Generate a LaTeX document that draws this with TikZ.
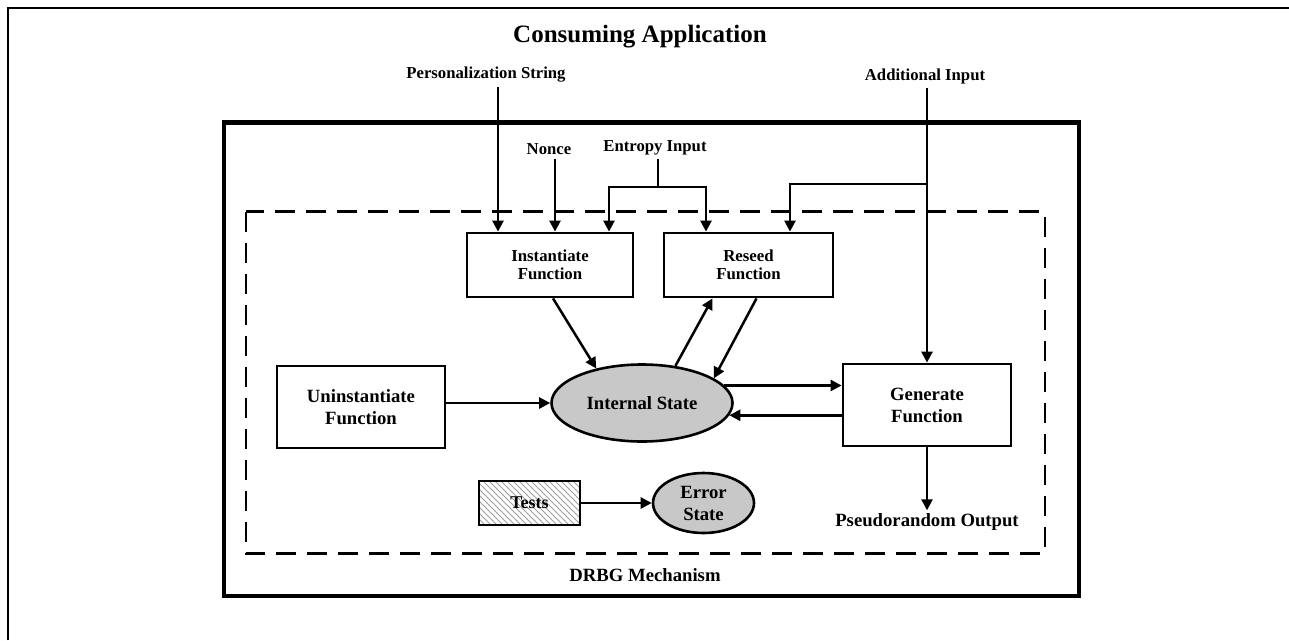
\documentclass[tikz,border=0pt]{standalone}
\usepackage{fontspec}
\setmainfont{Liberation Serif}
\usetikzlibrary{arrows.meta,shapes.geometric}
\definecolor{stategray}{RGB}{200,200,200}
\begin{document}
\begin{tikzpicture}[x=1pt,y=-1pt,
  arr/.style={-{Triangle[length=11pt,width=11pt]}, line width=2.5pt},
  ln/.style={line width=2.5pt},
  fbox/.style={draw, line width=2.8pt, align=center, font=\bfseries\fontsize{18.7}{22}\selectfont, inner sep=0pt},
  sbox/.style={draw, line width=2.8pt, align=center, font=\bfseries\fontsize{16.8}{17.5}\selectfont, inner sep=0pt},
  lbl/.style={font=\bfseries\fontsize{16.7}{20}\selectfont, inner sep=4pt},
  blbl/.style={font=\bfseries\fontsize{18.7}{22}\selectfont, inner sep=3pt},
  st/.style={ellipse, draw, line width=2.6pt, fill=stategray, align=center, font=\bfseries\fontsize{18.7}{22}\selectfont, inner sep=0pt}
]
\useasboundingbox (0,0) rectangle (1289,640);
% frames
\draw[line width=2pt] (8,640) -- (8,7.7) -- (1289,7.7);
\draw[line width=4.5pt] (224,122.7) rectangle (1079,596);
\draw[line width=2.5pt, dash pattern=on 20pt off 11pt] (246,211.7) rectangle (1045,553.3);

% labels
\node[font=\bfseries\fontsize{25}{30}\selectfont] (ca) at (640,37) {Consuming Application};
\node[lbl] (ps) at (486,75) {Personalization String};
\node[lbl] (nonce) at (549,149) {Nonce};
\node[lbl] (ent) at (655,148) {Entropy Input};
\node[lbl] (add) at (925,76) {Additional Input};
\node[blbl] (drbg) at (645,575) {DRBG Mechanism};
\node[blbl] (out) at (927,522) {Pseudorandom Output};

% boxes
\node[sbox, minimum width=166pt, minimum height=64pt] (inst) at (550,265) {Instantiate\\Function};
\node[sbox, minimum width=169pt, minimum height=64pt] (res) at (748.5,265) {Reseed\\Function};
\node[fbox, minimum width=168pt, minimum height=82pt] (un) at (361,407) {Uninstantiate\\Function};
\node[fbox, minimum width=168pt, minimum height=82pt] (gen) at (927,405) {Generate\\Function};
\node[st, minimum width=181pt, minimum height=77pt] (ist) at (642,403) {Internal State};
\node[st, minimum width=101pt, minimum height=60pt] (err) at (703.5,503) {Error\\State};
\node[draw, line width=2.8pt, minimum width=101pt, minimum height=44pt, inner sep=0pt,
  font=\bfseries\fontsize{18}{22}\selectfont,
  path picture={\foreach \i in {-50,-44,...,110} \draw[gray!75, line width=1pt] ([xshift=\i pt]path picture bounding box.north west) -- ++(50pt,-50pt);}] (tests) at (529.5,503) {Tests};

% inputs
\coordinate (p1) at (498,233);
\coordinate (n1) at (555,233);
\coordinate (ej) at (658,187);
\coordinate (e1) at (609,187);
\coordinate (e2) at (706,187);
\coordinate (a1) at (927,184);
\coordinate (a2) at (790,184);
\draw[arr] (ps.south -| p1) -- (p1 |- inst.north);
\draw[arr] (nonce.south -| n1) -- (n1 |- inst.north);
\draw[ln] (ent.south -| ej) -- (ej);
\draw[{Triangle[length=11pt,width=11pt]}-{Triangle[length=11pt,width=11pt]}, line width=2.5pt] (e1 |- inst.north) -- (e1) -- (e2) -- (e2 |- res.north);
\draw[arr] (add.south -| gen.north) -- (gen.north);
\draw[arr] (a1) -- (a2) -- (a2 |- res.north);

% internal connections
\draw[arr] ([xshift=3pt]inst.south) -- (ist.143);
\draw[arr] (ist.48) -- ([xshift=-36pt]res.south);
\draw[arr] ([xshift=8pt]res.south) -- (ist.19);
\draw[arr] (un.east |- ist.west) -- (ist.west);
\draw[arr] (ist.12) -- (ist.12 -| gen.west);
\draw[arr] (ist.-8 -| gen.west) -- (ist.-8);
\draw[arr] (gen.south) -- (out.north);
\draw[arr] (tests.east) -- (err.west);
\end{tikzpicture}
\end{document}
